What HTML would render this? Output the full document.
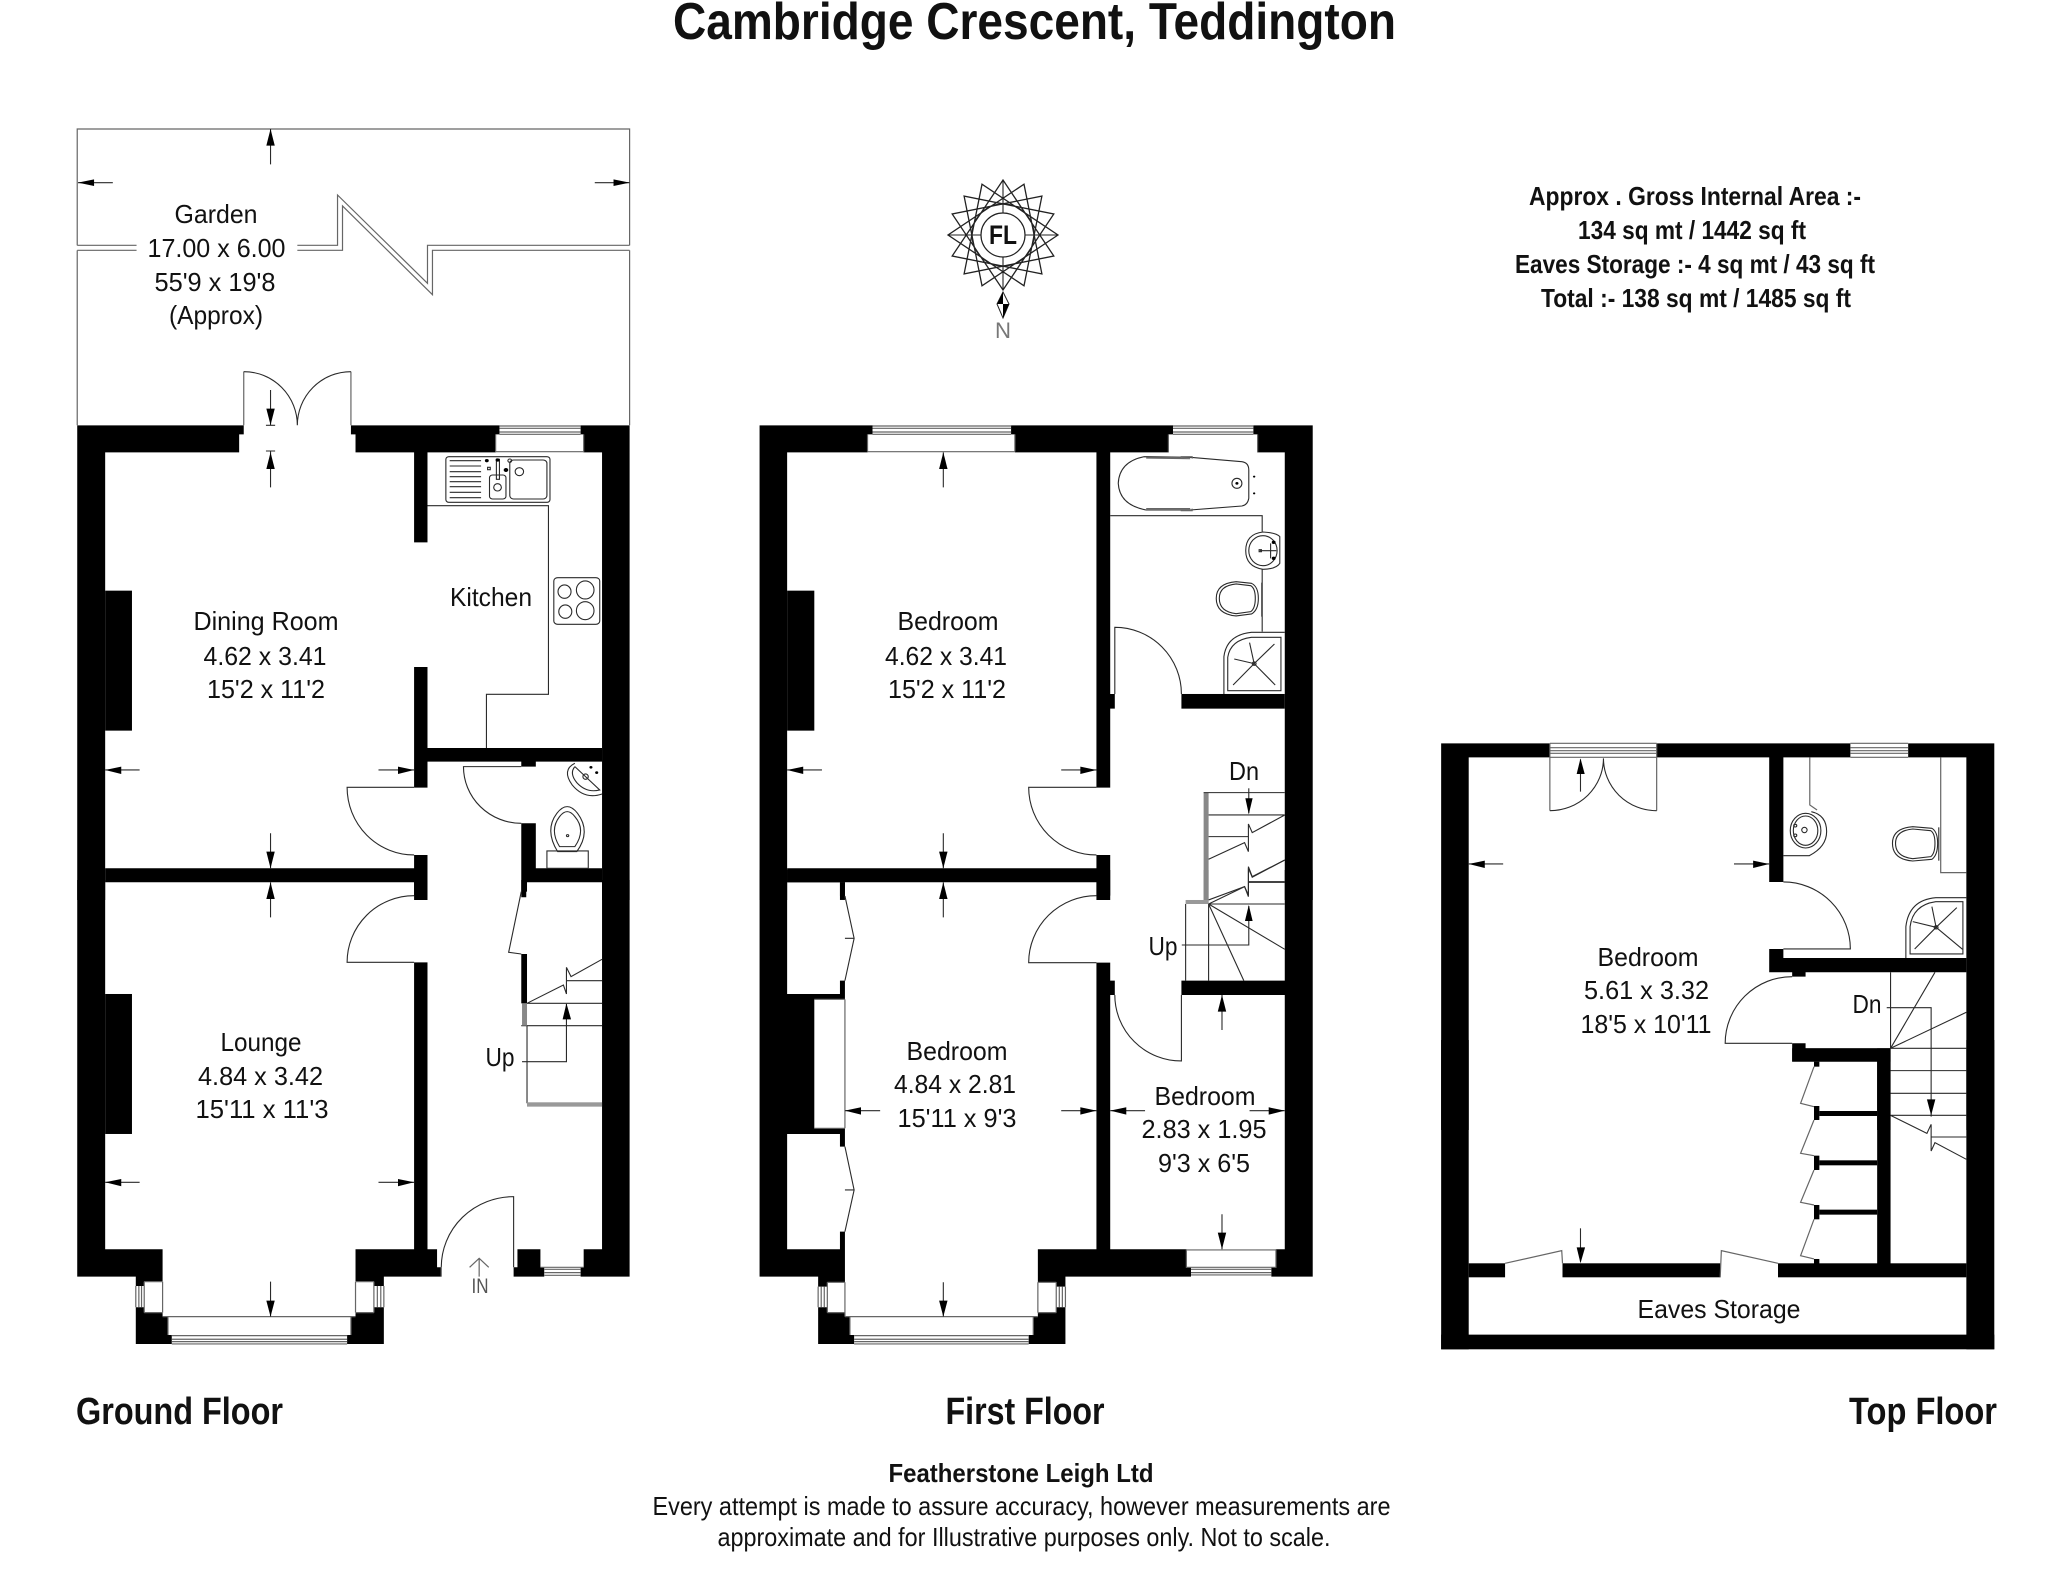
<!DOCTYPE html>
<html><head><meta charset="utf-8"><title>Cambridge Crescent, Teddington</title>
<style>
html,body{margin:0;padding:0;background:#fff}
svg{display:block}
.s *{vector-effect:non-scaling-stroke}
.l{fill:none;stroke:#2a2a2a;stroke-width:1.1}
.g{fill:none;stroke:#666;stroke-width:1.2}
.k{fill:#000;stroke:none}
text{font-family:"Liberation Sans Narrow","Liberation Sans",sans-serif;font-size:26px;fill:#111;text-anchor:middle}
.b{font-weight:bold}
</style></head><body>
<svg width="2048" height="1569" viewBox="0 0 2048 1569" xmlns="http://www.w3.org/2000/svg">
<rect width="2048" height="1569" fill="#fff"/>

<!-- GARDEN -->
<g class="s" transform="translate(60,120) scale(.3828,.3333)">
<path class="g" d="M45,376V27H1488V376M45,391V916M1488,391V916"/>
<path class="g" d="M45,376H200M620,376H725V225L960,490V376H1488M45,391H200M620,391H738V258L973,524V391H1488"/>
<path class="l" d="M550,27V133M47,188H138M1488,188H1397M550,810V915"/>
<polygon class="k" points="550,27 539,77 561,77"/><polygon class="k" points="47,188 89,178 89,198"/><polygon class="k" points="1488,188 1446,178 1446,198"/><polygon class="k" points="550,915 539,866 561,866"/>
<path class="l" d="M538,916H562"/>
<path class="g" d="M480,916V755M760,916V755"/>
<path class="l" d="M480,755A140,161 0 0 1 620,916M760,755A140,161 0 0 0 620,916"/>
</g>

<!-- GROUND FLOOR upper -->
<g class="s" transform="translate(60,420) scale(.3828,.3333)">
<path class="k" d="M45,16H480V43H468V97H118V1440H45Z"/>
<path class="k" d="M760,16H1148V43H1138V97H960V367H925V97H772V43H760Z"/>
<path class="k" d="M1360,16H1488V1440H1416V97H1368V43H1360Z"/>
<rect class="k" x="118" y="512" width="70" height="420"/>
<path class="k" d="M925,741H960V984H1416V1025H1243V1040H1205V1025H960V1103H925Z"/>
<path class="k" d="M1205,1210H1243V1345H1416V1387H1218V1432H1205Z"/>
<path class="k" d="M118,1345H925V1305H960V1440H925V1387H118Z"/>
<path class="g" d="M1148,18H1360M1148,25H1360M1148,36H1360M1148,43H1360M1138,43V97M1368,43V97M1138,95H1368"/>
<path class="l" d="M960,257H1276V823H1114V984"/>
<path class="l" d="M925,1102H750A175,203 0 0 0 925,1305"/>
<path class="l" d="M1205,1040H1054A151,170 0 0 0 1205,1210"/>
<path class="l" d="M550,93V202M118,1050H208M925,1050H832M550,1240V1345M538,93H562"/>
<polygon class="k" points="550,97 539,147 561,147"/><polygon class="k" points="118,1050 160,1040 160,1062"/><polygon class="k" points="925,1050 883,1040 883,1062"/><polygon class="k" points="550,1345 539,1295 561,1295"/>
<!-- sink -->
<rect class="l" x="1008" y="110" width="272" height="137" rx="8" ry="8"/>
<path class="l" d="M1018,122H1100M1018,138H1100M1018,155H1100M1018,170H1100M1018,185H1100M1018,200H1100M1018,217H1100M1018,233H1100"/>
<rect class="l" x="1122" y="165" width="43" height="72" rx="8"/><ellipse class="l" cx="1143" cy="202" rx="10" ry="11"/>
<rect class="l" x="1175" y="120" width="97" height="117" rx="10"/><ellipse class="l" cx="1200" cy="155" rx="11" ry="12"/>
<rect class="l" x="1140" y="118" width="8" height="60"/>
<circle class="k" cx="1115" cy="122" r="5"/><circle class="k" cx="1143" cy="120" r="5"/><circle class="l" cx="1175" cy="122" r="5"/><circle class="k" cx="1165" cy="150" r="6"/><rect class="l" x="1117" y="142" width="7" height="7"/>
<!-- hob -->
<rect class="l" x="1290" y="473" width="120" height="140" rx="10"/>
<ellipse class="l" cx="1318" cy="515" rx="17" ry="20"/><ellipse class="l" cx="1372" cy="510" rx="23" ry="27"/><ellipse class="l" cx="1320" cy="575" rx="17" ry="20"/><ellipse class="l" cx="1372" cy="572" rx="23" ry="27"/>
<!-- wc basin and pan -->
<path class="l" d="M1345,1030Q1310,1050 1338,1095Q1370,1140 1416,1122"/><path class="l" d="M1345,1040Q1330,1060 1350,1088Q1375,1120 1410,1110L1345,1040"/>
<circle class="k" cx="1387" cy="1042" r="4"/><circle class="k" cx="1402" cy="1058" r="4"/><ellipse class="l" cx="1373" cy="1070" rx="7" ry="8"/>
<path class="l" d="M1300,1295Q1265,1230 1298,1180Q1325,1140 1352,1180Q1388,1235 1350,1295Z"/><path class="l" d="M1305,1280Q1278,1230 1305,1190Q1325,1160 1345,1190Q1375,1230 1345,1280Z"/>
<rect class="l" x="1272" y="1293" width="108" height="52"/><circle class="l" cx="1326" cy="1247" r="3"/>
</g>

<!-- GROUND FLOOR lower -->
<g class="s" transform="translate(60,880) scale(.3828,.3333)">
<path class="k" d="M45,0H118V1108H268V1205H220V1218H198V1190H45Z"/>
<rect class="k" x="118" y="342" width="70" height="420"/>
<path class="k" d="M198,1282H220V1298H268V1310H282V1365H292V1392H198Z"/>
<path class="k" d="M846,1282H820V1298H772V1310H760V1365H750V1392H846Z"/>
<path class="k" d="M925,247H960V1108H985V1162H996V1190H846V1218H820V1205H772V1108H925Z"/>
<path class="k" d="M925,0H960V47H925Z"/>
<path class="k" d="M1205,0H1220V35H1205Z"/>
<path class="k" d="M1205,222H1220V370H1205Z"/>
<path class="k" d="M1416,0H1488V1190H1360V1162H1368V1108H1416Z"/>
<path class="k" d="M1195,1108H1255V1162H1265V1190H1185V1162H1195Z"/>
<path class="g" d="M292,1367H750M292,1378H750M292,1385H750M292,1392H750M268,1310H772M282,1310V1365M760,1310V1365M198,1218V1282M206,1218V1282M213,1218V1282M220,1205V1298M268,1205V1298M846,1218V1282M838,1218V1282M829,1218V1282M820,1205V1298M772,1205V1298M220,1205H268M220,1298H268M772,1205H820M772,1298H820"/>
<path class="g" d="M1265,1168H1360M1265,1178H1360M1265,1186H1360M1255,1162H1368M996,1190V1162"/>
<path class="l" d="M925,47A175,200 0 0 0 750,247H925"/>
<path class="l" d="M996,1162A189,212 0 0 1 1185,950V1162"/>
<path class="l" d="M1205,35L1172,217L1205,222"/>
<path class="l" d="M1220,370H1416M1205,437H1416M1220,437V670M1220,370L1315,315L1323,342V262L1335,290L1416,238M1323,302H1416"/>
<rect x="1207" y="370" width="13" height="67" fill="#888"/>
<rect x="1220" y="667" width="196" height="13" fill="#999"/>
<path class="l" d="M1207,545H1323V372"/>
<polygon class="k" points="1323,370 1313,418 1335,418"/>
<path class="l" d="M550,7V112M118,907H208M925,907H832M550,1205V1310"/>
<polygon class="k" points="550,7 539,57 561,57"/><polygon class="k" points="118,907 160,897 160,919"/><polygon class="k" points="925,907 883,897 883,919"/><polygon class="k" points="550,1310 539,1262 561,1262"/>
<path class="g" d="M1095,1190V1135M1070,1162L1095,1135L1120,1162"/>
</g>

<!-- FIRST FLOOR upper -->
<g class="s" transform="translate(750,420) scale(.3828,.3333)">
<path class="k" d="M25,16H320V43H307V97H97V1440H25Z"/>
<path class="k" d="M682,16H1105V43H1093V97H941V822H953V866H941V1103H905V97H692V43H682Z"/>
<path class="k" d="M1315,16H1470V1440H1397V97H1326V43H1315Z"/>
<rect class="k" x="97" y="512" width="71" height="420"/>
<rect class="k" x="1127" y="822" width="270" height="44"/>
<path class="k" d="M97,1345H905V1305H941V1440H905V1387H97Z"/>
<rect class="k" x="235" y="1387" width="13" height="53"/>
<path class="g" d="M320,18H682M320,25H682M320,36H682M320,43H682M307,43V95M692,43V95M307,95H692"/>
<path class="g" d="M1105,18H1315M1105,25H1315M1105,36H1315M1105,43H1315M1093,43V97M1326,43V97"/>
<path class="l" d="M941,287H1338V335M1338,447V635"/>
<path class="l" d="M953,822V622A174,200 0 0 1 1127,822"/>
<path class="l" d="M905,1102H728A177,203 0 0 0 905,1305"/>
<path class="l" d="M505,97V202M97,1050H188M905,1050H813M505,1240V1345"/>
<polygon class="k" points="505,97 494,147 516,147"/><polygon class="k" points="97,1050 139,1040 139,1062"/><polygon class="k" points="905,1050 863,1040 863,1062"/><polygon class="k" points="505,1345 494,1295 516,1295"/>
<!-- bath -->
<path class="l" d="M1030,110L1150,112L1285,125Q1303,128 1303,150V235Q1300,255 1285,258L1150,270H1035Q965,255 962,190Q965,125 1030,110Z"/>
<path class="g" d="M1035,114L1150,116M1035,266H1150M1125,110H1155V116M1125,272H1155V266"/>
<ellipse class="l" cx="1272" cy="190" rx="13" ry="15"/><circle class="k" cx="1272" cy="190" r="4"/><circle class="k" cx="1317" cy="170" r="3"/><circle class="k" cx="1317" cy="220" r="3"/>
<!-- basin -->
<path class="l" d="M1340,336Q1375,338 1384,350V430Q1375,447 1340,448Q1295,440 1295,392Q1295,342 1340,336Z"/>
<ellipse class="l" cx="1340" cy="392" rx="37" ry="45"/>
<circle class="k" cx="1368" cy="367" r="5"/><circle class="k" cx="1368" cy="415" r="5"/><path class="l" d="M1332,392H1375M1360,370V415"/><rect class="l" x="1330" y="389" width="6" height="6"/>
<!-- toilet -->
<path class="l" d="M1270,485Q1218,490 1218,535Q1218,582 1270,588L1310,582Q1328,570 1328,535Q1328,500 1310,490Z"/>
<path class="l" d="M1270,492Q1226,497 1226,535Q1226,575 1270,581L1308,575Q1320,565 1320,535Q1320,505 1308,497Z"/>
<path class="l" stroke-width="2" d="M1337,488V590"/>
<!-- shower -->
<path class="l" d="M1238,822V710Q1245,645 1310,637H1397"/>
<path class="l" d="M1248,812V712Q1255,660 1310,652H1387V812Z"/>
<path class="l" d="M1317,731L1305,668M1317,731L1370,672M1317,731L1372,795M1317,731L1262,795M1317,731L1265,717"/>
<circle class="l" cx="1317" cy="731" r="5"/>
<!-- stairs -->
<rect x="1185" y="1118" width="13" height="322" fill="#888"/>
<path class="l" d="M1185,1118H1397M1198,1185H1397M1198,1250H1302M1198,1318L1292,1268L1302,1295V1212L1312,1238L1397,1185M1302,1387H1397M1198,1440L1292,1400L1302,1430V1345L1312,1372L1397,1320"/>
<path class="l" d="M1303,1105V1180"/><polygon class="k" points="1303,1183 1294,1135 1313,1135"/>
</g>

<!-- FIRST FLOOR lower -->
<g class="s" transform="translate(750,870) scale(.3828,.3333)">
<path class="k" d="M25,0H97V372H235V332H248V388H168V775H248V830H235V792H97V1138H235V1085H248V1237H202V1250H178V1220H25Z"/>
<rect class="k" x="235" y="37" width="13" height="41"/>
<rect class="k" x="97" y="0" width="151" height="37"/>
<path class="k" d="M178,1312H202V1328H248V1340H261V1395H272V1422H178Z"/>
<path class="k" d="M824,1312H800V1328H752V1340H740V1395H728V1422H824Z"/>
<path class="k" d="M905,0H941V77H905Z"/>
<path class="k" d="M905,278H941V332H953V375H941V1138H1140V1192H1152V1220H824V1250H800V1237H752V1138H905Z"/>
<path class="k" d="M1127,332H1397V0H1470V1220H1362V1192H1374V1138H1397V375H1127Z"/>
<path class="g" d="M272,1397H728M272,1408H728M272,1415H728M272,1422H728M248,1340H752M261,1340V1395M740,1340V1395M178,1250V1312M186,1250V1312M194,1250V1312M202,1237V1328M248,388V775M248,1237V1340M824,1250V1312M816,1250V1312M808,1250V1312M800,1237V1328M752,1237V1328M202,1237H248M202,1328H248M752,1237H800M752,1328H800"/>
<path class="g" d="M168,388H248M168,775H248"/>
<path class="g" d="M1140,1138V1192H1374V1138M1152,1198H1362M1152,1208H1362M1152,1215H1362M1140,1140H1374"/>
<path class="l" d="M248,78L272,205L248,332M248,205H272M248,830L272,960L248,1085M248,960H272"/>
<path class="l" d="M905,77A177,201 0 0 0 728,278H905"/>
<path class="l" d="M953,375A174,198 0 0 0 1127,573V375"/>
<rect x="1185" y="0" width="13" height="102" fill="#888"/><rect x="1138" y="90" width="60" height="12" fill="#999"/>
<path class="l" d="M1198,102H1397M1198,102L1292,50L1302,75V-10L1312,20L1397,-30M1302,35H1397M1198,102L1397,238M1198,102L1290,332M1198,102V332M1138,102V332"/>
<path class="l" d="M1128,225H1303V108"/><polygon class="k" points="1303,105 1293,153 1313,153"/>
<path class="l" d="M505,37V142M248,722H340M905,722H813M941,722H1032M1397,722H1305M1233,375V480M1233,1033V1138M505,1237V1340"/>
<polygon class="k" points="505,37 494,87 516,87"/><polygon class="k" points="248,722 290,712 290,734"/><polygon class="k" points="905,722 863,712 863,734"/><polygon class="k" points="941,722 983,712 983,734"/><polygon class="k" points="1397,722 1355,712 1355,734"/><polygon class="k" points="1233,375 1222,425 1244,425"/><polygon class="k" points="1233,1138 1222,1088 1244,1088"/><polygon class="k" points="505,1340 494,1292 516,1292"/>
</g>

<!-- TOP FLOOR upper -->
<g class="s" transform="translate(1440,730) scale(.3828,.3333)">
<path class="k" d="M3,40H287V82H75V1200H3Z"/>
<path class="k" d="M566,40H1072V82H897V456H860V82H566Z"/>
<path class="k" d="M1223,40H1448V1200H1375V82H1223Z"/>
<path class="k" d="M860,657H897V684H1375V727H955V740H920V727H860Z"/>
<path class="k" d="M920,940H955V955H1177V1200H1142V995H920Z"/>
<path class="g" d="M287,40H566M287,53H566M287,62H566M287,70H566M287,82H566M287,40V82M566,40V82"/>
<path class="g" d="M1072,40H1223M1072,53H1223M1072,62H1223M1072,70H1223M1072,82H1223"/>
<path class="g" d="M287,82V242M566,82V242"/>
<path class="l" d="M287,242A140,157 0 0 0 427,85M566,242A139,157 0 0 1 427,85"/>
<path class="l" d="M367,185V88M75,402H165M860,402H768"/>
<polygon class="k" points="367,85 357,132 378,132"/><polygon class="k" points="75,402 117,392 117,414"/><polygon class="k" points="860,402 818,392 818,414"/>
<path class="l" d="M897,456A175,201 0 0 1 1072,657H897"/>
<path class="l" d="M920,740A175,200 0 0 0 745,940H920"/>
<!-- wc -->
<path class="g" d="M966,82V225L985,240"/>
<path class="l" d="M897,377H965Q1010,350 1010,305Q1010,255 970,245"/>
<ellipse class="l" cx="955" cy="302" rx="40" ry="52"/><ellipse class="l" cx="955" cy="302" rx="32" ry="44"/>
<ellipse class="l" cx="952" cy="300" rx="7" ry="8"/><circle class="l" cx="928" cy="287" r="4"/><circle class="l" cx="928" cy="316" r="4"/>
<path class="g" d="M1308,82V428H1375"/>
<path class="l" d="M1235,290Q1182,295 1182,340Q1182,388 1235,393L1285,388Q1300,375 1300,340Q1300,305 1285,295Z"/>
<path class="l" d="M1235,297Q1190,302 1190,340Q1190,380 1235,386L1282,380Q1293,370 1293,340Q1293,310 1282,302Z"/>
<path class="l" stroke-width="2" d="M1303,292V392"/>
<path class="l" d="M1217,684V590Q1225,510 1295,503H1375"/>
<path class="l" d="M1228,672V590Q1235,525 1295,515H1366V672Z"/>
<path class="l" d="M1296,592L1285,530M1296,592L1350,533M1296,592L1365,658M1296,592L1240,657M1296,592L1235,575"/>
<circle class="l" cx="1296" cy="592" r="5"/>
<!-- stairs -->
<path class="l" d="M1177,727V955M1177,955L1293,727M1177,955L1375,847M1177,955H1375M1177,1022H1375M1177,1090H1375M1167,833H1283V1160"/>
</g>

<!-- TOP FLOOR lower -->
<g class="s" transform="translate(1440,1040) scale(.3828,.3333)">
<rect class="k" x="3" y="0" width="72" height="928"/>
<rect class="k" x="1375" y="0" width="73" height="928"/>
<rect class="k" x="3" y="884" width="1445" height="44"/>
<rect class="k" x="1142" y="25" width="35" height="650"/>
<rect class="k" x="920" y="25" width="257" height="40"/>
<rect class="k" x="977" y="65" width="14" height="15"/>
<rect class="k" x="977" y="198" width="14" height="42"/><rect class="k" x="991" y="213" width="151" height="15"/>
<rect class="k" x="977" y="347" width="14" height="43"/><rect class="k" x="991" y="361" width="151" height="15"/>
<rect class="k" x="977" y="495" width="14" height="43"/><rect class="k" x="991" y="509" width="151" height="15"/>
<rect class="k" x="977" y="657" width="14" height="15"/>
<rect class="k" x="75" y="670" width="95" height="42"/><rect class="k" x="320" y="670" width="412" height="42"/><rect class="k" x="883" y="670" width="492" height="42"/>
<path class="g" d="M977,80L942,190L977,200M977,240L942,340L977,347M977,390L942,487L977,495M977,538L942,647L977,657"/>
<path class="g" d="M170,670L318,632L320,670M883,670L735,632L732,712"/>
<path class="l" d="M1177,226H1375M1177,226L1272,280L1283,253V333L1293,308L1375,358M1283,291H1375"/>
<polygon class="k" points="1283,226 1272,178 1294,178"/>
<path class="l" d="M367,565V665"/><polygon class="k" points="367,670 357,622 379,622"/>
</g>

<!-- COMPASS -->
<g transform="translate(-3,-1)">
<polygon fill="none" stroke="#222" stroke-width="1.3" points="1061,236 985,286.800 967.100,197.100 1056.800,215 1006,291 955.200,215 1044.900,197.100 1027,286.800 951,236 1027,185.200 1044.900,274.900 955.200,257 1006,181 1056.800,257 967.100,274.900 985,185.200"/>
<path fill="none" stroke="#222" stroke-width="1.1" d="M1006,181V291M951,236H1061"/>
<circle cx="1006" cy="236" r="31" fill="none" stroke="#222" stroke-width="1.2"/>
<circle cx="1006" cy="236" r="22" fill="#fff" stroke="#222" stroke-width="1.2"/>
<polygon fill="#fff" stroke="#222" points="1006,293 1012,305 1006,319 1000,305"/>
<polygon class="k" points="1006,293 1000,305 1006,305"/><polygon class="k" points="1006,305 1012,305 1006,319"/>
<text x="1006" y="245" class="b" style="font-size:27px" textLength="28" lengthAdjust="spacingAndGlyphs">FL</text>
<text x="1006" y="339" style="font-size:22px;fill:#777" textLength="16" lengthAdjust="spacingAndGlyphs">N</text>
</g>

<!-- TEXT -->
<text x="1034.500" y="39" class="b" style="font-size:52px" textLength="723" lengthAdjust="spacingAndGlyphs">Cambridge Crescent, Teddington</text>

<text x="1695" y="205" class="b" textLength="332" lengthAdjust="spacingAndGlyphs">Approx . Gross Internal Area :-</text>
<text x="1692" y="239" class="b" textLength="228" lengthAdjust="spacingAndGlyphs">134 sq mt / 1442 sq ft</text>
<text x="1695" y="273" class="b" textLength="360" lengthAdjust="spacingAndGlyphs">Eaves Storage :- 4 sq mt / 43 sq ft</text>
<text x="1696" y="307" class="b" textLength="310" lengthAdjust="spacingAndGlyphs">Total :- 138 sq mt / 1485 sq ft</text>

<text x="216" y="223" textLength="83" lengthAdjust="spacingAndGlyphs">Garden</text>
<text x="216.500" y="257" textLength="138" lengthAdjust="spacingAndGlyphs">17.00 x 6.00</text>
<text x="215" y="291" textLength="121" lengthAdjust="spacingAndGlyphs">55'9 x 19'8</text>
<text x="216" y="324" textLength="94" lengthAdjust="spacingAndGlyphs">(Approx)</text>

<text x="266" y="630" textLength="145" lengthAdjust="spacingAndGlyphs">Dining Room</text>
<text x="265" y="665" textLength="123" lengthAdjust="spacingAndGlyphs">4.62 x 3.41</text>
<text x="266" y="698" textLength="118" lengthAdjust="spacingAndGlyphs">15'2 x 11'2</text>
<text x="491" y="606" textLength="82" lengthAdjust="spacingAndGlyphs">Kitchen</text>
<text x="261" y="1051" textLength="81" lengthAdjust="spacingAndGlyphs">Lounge</text>
<text x="260.500" y="1085" textLength="125" lengthAdjust="spacingAndGlyphs">4.84 x 3.42</text>
<text x="262" y="1118" textLength="133" lengthAdjust="spacingAndGlyphs">15'11 x 11'3</text>
<text x="500" y="1066" textLength="29" lengthAdjust="spacingAndGlyphs">Up</text>
<text x="480" y="1293" style="font-size:21px;fill:#555" textLength="17" lengthAdjust="spacingAndGlyphs">IN</text>

<text x="948" y="630" textLength="101" lengthAdjust="spacingAndGlyphs">Bedroom</text>
<text x="946" y="665" textLength="122" lengthAdjust="spacingAndGlyphs">4.62 x 3.41</text>
<text x="947" y="698" textLength="118" lengthAdjust="spacingAndGlyphs">15'2 x 11'2</text>
<text x="1244" y="780" textLength="30" lengthAdjust="spacingAndGlyphs">Dn</text>
<text x="957" y="1060" textLength="101" lengthAdjust="spacingAndGlyphs">Bedroom</text>
<text x="955" y="1093" textLength="122" lengthAdjust="spacingAndGlyphs">4.84 x 2.81</text>
<text x="957" y="1127" textLength="119" lengthAdjust="spacingAndGlyphs">15'11 x 9'3</text>
<text x="1205" y="1105" textLength="101" lengthAdjust="spacingAndGlyphs">Bedroom</text>
<text x="1204" y="1138" textLength="125" lengthAdjust="spacingAndGlyphs">2.83 x 1.95</text>
<text x="1204" y="1172" textLength="92" lengthAdjust="spacingAndGlyphs">9'3 x 6'5</text>
<text x="1163" y="955" textLength="29" lengthAdjust="spacingAndGlyphs">Up</text>

<text x="1648" y="966" textLength="101" lengthAdjust="spacingAndGlyphs">Bedroom</text>
<text x="1646.500" y="999" textLength="125" lengthAdjust="spacingAndGlyphs">5.61 x 3.32</text>
<text x="1646" y="1033" textLength="131" lengthAdjust="spacingAndGlyphs">18'5 x 10'11</text>
<text x="1867" y="1013" textLength="29" lengthAdjust="spacingAndGlyphs">Dn</text>
<text x="1719" y="1318" textLength="163" lengthAdjust="spacingAndGlyphs">Eaves Storage</text>

<text x="179.500" y="1424" class="b" style="font-size:38px" textLength="207" lengthAdjust="spacingAndGlyphs">Ground Floor</text>
<text x="1025" y="1424" class="b" style="font-size:38px" textLength="159" lengthAdjust="spacingAndGlyphs">First Floor</text>
<text x="1923" y="1424" class="b" style="font-size:38px" textLength="148" lengthAdjust="spacingAndGlyphs">Top Floor</text>

<text x="1021" y="1482" class="b" textLength="265" lengthAdjust="spacingAndGlyphs">Featherstone Leigh Ltd</text>
<text x="1021.500" y="1515" textLength="738" lengthAdjust="spacingAndGlyphs">Every attempt is made to assure accuracy, however measurements are</text>
<text x="1024" y="1546" textLength="613" lengthAdjust="spacingAndGlyphs">approximate and for Illustrative purposes only. Not to scale.</text>
</svg>
</body></html>
